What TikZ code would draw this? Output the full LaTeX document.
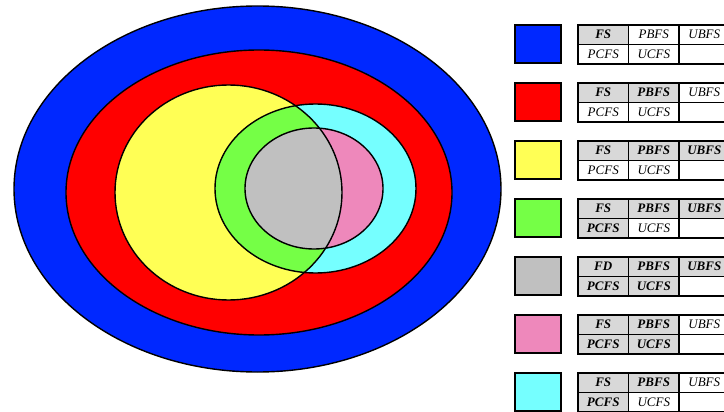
\documentclass[tikz,border=0pt]{standalone}
\usepackage{fontspec}
\setmainfont{Liberation Serif}
\usetikzlibrary{positioning}
\definecolor{setblue}{RGB}{0,40,255}
\definecolor{setred}{RGB}{255,0,0}
\definecolor{setyellow}{RGB}{255,255,85}
\definecolor{setgreen}{RGB}{117,255,70}
\definecolor{setgray}{RGB}{192,192,192}
\definecolor{setpink}{RGB}{238,136,187}
\definecolor{setcyan}{RGB}{117,255,255}
\definecolor{cellgray}{RGB}{216,216,216}

\begin{document}
\begin{tikzpicture}[x=1pt,y=-1pt,
	outline/.style={draw=black,line width=1.4pt},
	swatch/.style={draw=black,line width=2.6pt,minimum width=46pt,minimum height=38pt,inner sep=0pt},
	cell/.style={draw=black,line width=1.2pt,minimum width=50.5pt,minimum height=19.5pt,inner sep=0pt,outer sep=0pt},
	on/.style={cell,fill=cellgray,font=\fontsize{13}{15}\selectfont\bfseries\itshape},
	off/.style={cell,fill=white,font=\fontsize{13}{15}\selectfont\itshape}]
				\useasboundingbox (0,0) rectangle (724,412);
				% sets
				\fill[setblue] (257.5,189) ellipse (243.5pt and 183pt);
				\fill[setred] (259,192.5) ellipse (193pt and 142.5pt);
				\fill[setyellow] (228.5,192.5) ellipse (113.5pt and 107.5pt);
				\fill[setcyan] (315.5,188.5) ellipse (100.5pt and 84.5pt);
				\fill[setpink] (314,188.5) ellipse (69pt and 60.5pt);
				\begin{scope}
					\clip (228.5,192.5) ellipse (113.5pt and 107.5pt);
					\fill[setgreen] (315.5,188.5) ellipse (100.5pt and 84.5pt);
					\fill[setgray] (314,188.5) ellipse (69pt and 60.5pt);
				\end{scope}
				\foreach \x/\y/\a/\b in {257.5/189/243.5/183,259/192.5/193/142.5,228.5/192.5/113.5/107.5,315.5/188.5/100.5/84.5,314/188.5/69/60.5}{\draw[outline] (\x,\y) ellipse (\a pt and \b pt);}
				% legend
				\foreach \c/\fa/\ka/\kb/\kc/\kd/\ke [count=\i] in {setblue/FS/on/off/off/off/off,setred/FS/on/on/off/off/off,setyellow/FS/on/on/on/off/off,setgreen/FS/on/on/on/on/off,setgray/FD/on/on/on/on/on,setpink/FS/on/on/off/on/on,setcyan/FS/on/on/off/on/off}{
					\node[swatch,fill=\c] (sw\i) at (538,{44+58*(\i-1)}) {};
					\node[\ka,anchor=north west] (r\i-a) at (578,{25+58*(\i-1)}) {\fa};
					\node[\kb,right=0pt of r\i-a] (r\i-b) {PBFS};
					\node[\kc,right=0pt of r\i-b] (r\i-c) {UBFS};
					\node[\kd,below=0pt of r\i-a] (r\i-d) {PCFS};
					\node[\ke,below=0pt of r\i-b] (r\i-e) {UCFS};
					\node[off,below=0pt of r\i-c] (r\i-f) {};
					\draw[line width=2.4pt] (r\i-a.north west) rectangle (r\i-f.south east);
				}
			\end{tikzpicture}
\end{document}
